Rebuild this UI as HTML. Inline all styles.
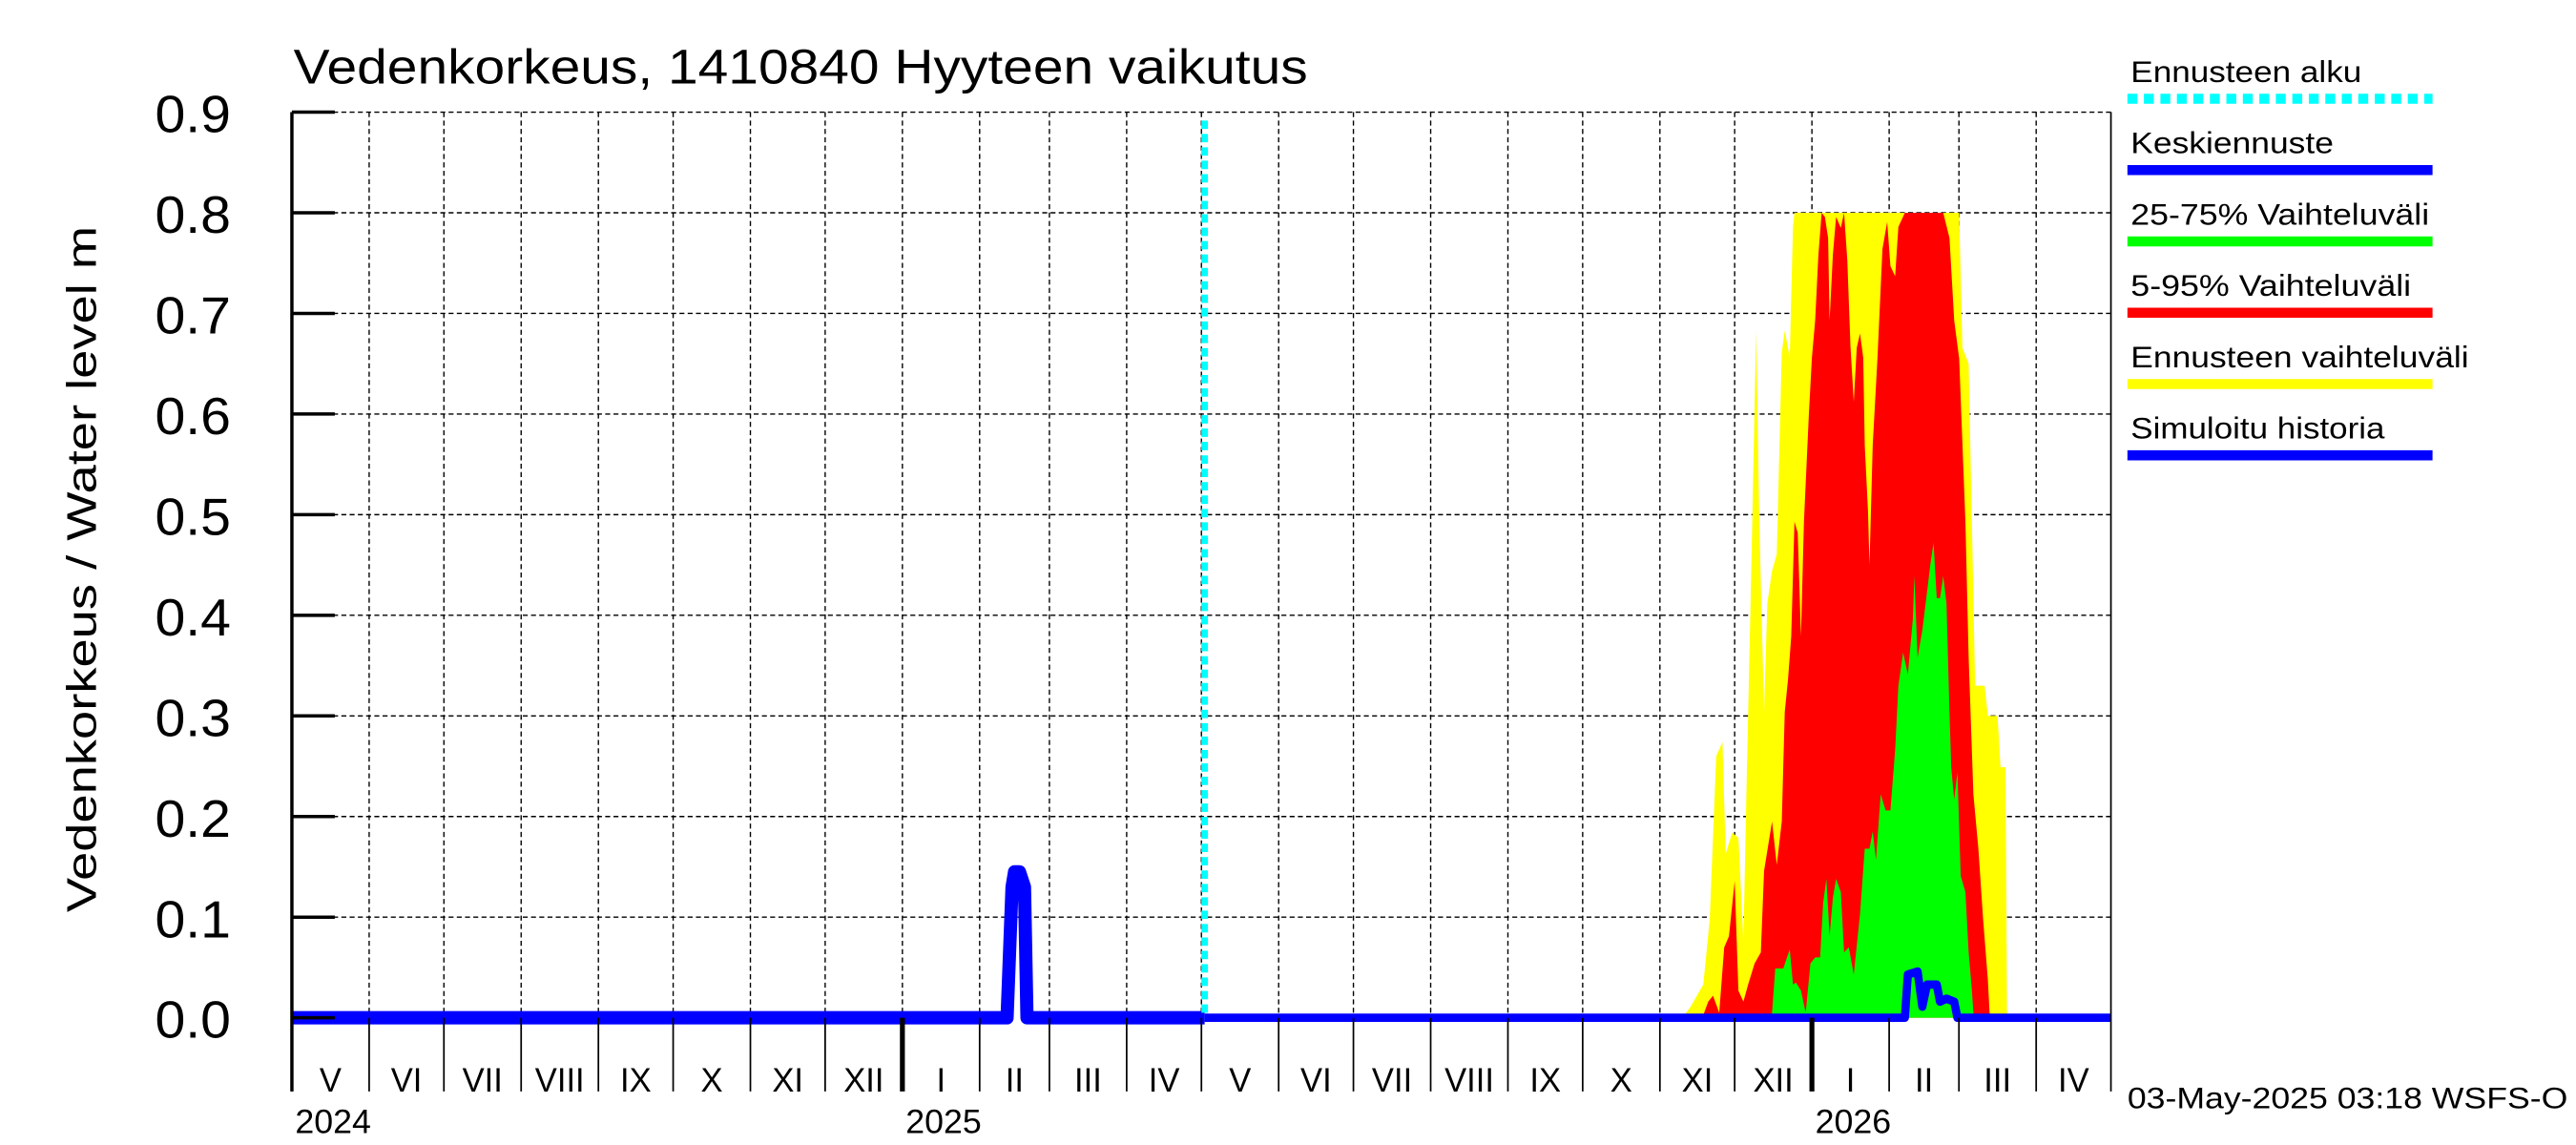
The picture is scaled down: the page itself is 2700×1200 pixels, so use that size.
<!DOCTYPE html>
<html><head><meta charset="utf-8"><style>
html,body{margin:0;padding:0;background:#fff;overflow:hidden}
svg{display:block;width:100vw;height:100vh}
text{font-family:"Liberation Sans",sans-serif;fill:#000}
</style></head><body>
<svg id="chart" viewBox="0 0 1562 684" preserveAspectRatio="none" xmlns="http://www.w3.org/2000/svg">
<g id="grid"></g>
<g id="bands"></g>
<g id="lines"></g>
<g id="axes"></g>
<text x="178" y="50" font-size="29" textLength="615" lengthAdjust="spacingAndGlyphs">Vedenkorkeus, 1410840 Hyyteen vaikutus</text>
<text transform="translate(58,340) rotate(-90)" text-anchor="middle" font-size="25" textLength="410" lengthAdjust="spacingAndGlyphs">Vedenkorkeus / Water level    m</text>
<g id="legend"></g>
<text x="1290" y="662" font-size="18" textLength="267" lengthAdjust="spacingAndGlyphs">03-May-2025 03:18 WSFS-O</text>
</svg>
<script>
// x: days since 1 May 2024; y: metres
const yTicks = [0,0.1,0.2,0.3,0.4,0.5,0.6,0.7,0.8,0.9];
const yTickLabels = ["0.0","0.1","0.2","0.3","0.4","0.5","0.6","0.7","0.8","0.9"];
const monthLabels = ["V","VI","VII","VIII","IX","X","XI","XII","I","II","III","IV","V","VI","VII","VIII","IX","X","XI","XII","I","II","III","IV"];
const monthDays = [31,30,31,31,30,31,30,31,31,28,31,30,31,30,31,31,30,31,30,31,31,28,31,30];
const yearLabels = ["2024","2025","2026"];
const yearStartDays = [0,245,610];
const forecastStartDay = 366.3;
const histDays = [0,287,289,290,292,294,295,366.3];
const histVals = [0,0,0.13,0.145,0.145,0.13,0,0];
const maxDays = [558,561.3,566.4,569,571.6,574.1,575.4,578,580.5,582.5,583.7,585.7,587.6,588.9,590.8,592.1,594,595.9,597.9,599.1,601.1,602.4,603,669.1,670.4,672.9,674.2,675.5,679.3,680.6,684.5,685.7,687.7,688.3,689.6];
const maxVals = [0,0.011,0.033,0.098,0.26,0.274,0.163,0.184,0.179,0.076,0.222,0.449,0.683,0.493,0.304,0.412,0.444,0.461,0.661,0.683,0.656,0.786,0.8,0.8,0.666,0.65,0.493,0.33,0.33,0.3,0.3,0.249,0.249,0.005,0];
const p95Days = [566,568.4,570.3,572.8,574.8,576.7,579,580.5,582.5,584.4,587,589.5,590.8,594,595.9,597.9,599.1,600.4,601.7,603,604.3,605.6,606.8,608.8,610,611.3,612.6,613.9,615.2,616.5,617.1,618.4,619.7,621.6,622.9,624.2,625.5,626.8,628,629.3,630.6,631.2,632.5,633.1,634.4,636.3,638.3,640.2,641.5,643.4,644.7,647.3,662.7,665.2,667.1,669.1,671.6,672.9,674.8,676.8,678.7,680.6,681.3,682];
const p95Vals = [0,0.016,0.022,0.005,0.07,0.081,0.136,0.027,0.016,0.033,0.054,0.065,0.146,0.195,0.152,0.195,0.304,0.336,0.379,0.493,0.482,0.379,0.493,0.601,0.656,0.693,0.758,0.8,0.796,0.775,0.693,0.758,0.796,0.785,0.8,0.753,0.666,0.612,0.666,0.68,0.656,0.569,0.504,0.45,0.569,0.655,0.764,0.791,0.747,0.737,0.786,0.8,0.8,0.775,0.693,0.655,0.493,0.358,0.222,0.168,0.098,0.038,0.005,0];
const p75Days = [594,595.3,598.5,601.1,602.4,603.6,605.6,607.5,609.4,611.3,613.3,614.5,615.8,617.1,618.4,619.7,621.6,622.9,624.8,626.8,629.3,631.2,633.1,634.4,635.7,637.6,639.6,641.5,643.4,644.7,646.6,648.5,650.5,651.1,652.4,654.3,656.2,657.5,658.8,660.1,661.4,662.7,664,665.2,665.9,667.1,668.4,669.7,671.6,672.9,674.2,674.8,675.5];
const p75Vals = [0.005,0.049,0.049,0.068,0.033,0.035,0.027,0.005,0.054,0.06,0.06,0.114,0.138,0.081,0.119,0.138,0.125,0.065,0.07,0.043,0.103,0.168,0.168,0.185,0.157,0.222,0.206,0.206,0.266,0.33,0.363,0.341,0.396,0.439,0.358,0.385,0.423,0.45,0.472,0.417,0.417,0.439,0.412,0.304,0.249,0.217,0.244,0.141,0.125,0.065,0.027,0.005,0];
const medDays = [366.3,647.3,648.5,652.4,654.3,656.2,660.1,661.4,664,667.1,668.4,730];
const medVals = [0,0,0.043,0.046,0.011,0.033,0.033,0.016,0.019,0.016,0,0];

const X0=177, X1=1280, Y0=608, Y9=67, NDAYS=730;
const xs = d => X0 + d*(X1-X0)/NDAYS;
const ys = v => Y0 - v*(Y0-Y9)/0.9;
const NS="http://www.w3.org/2000/svg";
function mk(tag, parent, attrs){const e=document.createElementNS(NS,tag);for(const k in attrs)e.setAttribute(k,attrs[k]);parent.appendChild(e);return e;}
const grid=document.getElementById('grid'), bands=document.getElementById('bands'), lines=document.getElementById('lines'), axes=document.getElementById('axes'), legend=document.getElementById('legend');

yTicks.forEach((v,i)=>{
  if(i>0){const g=mk('line',grid,{x1:X0,x2:X1,y1:ys(v),y2:ys(v),stroke:'#000','stroke-width':0.8,'stroke-dasharray':'3,2'});
  
  }
  const t=mk('line',axes,{x1:X0,x2:X0+26,y1:ys(v),y2:ys(v),stroke:'#000','stroke-width':2});
  
  
  const l=mk('text',axes,{x:140,y:ys(v)+12,'text-anchor':'end','font-size':31,textLength:46,lengthAdjust:'spacingAndGlyphs'});
  l.textContent=yTickLabels[i];
  
  
});
let d=0;
monthLabels.forEach((m,i)=>{
  const xa=xs(d), xb=xs(d+monthDays[i]);
  if(i>0){const g=mk('line',grid,{x1:xa,x2:xa,y1:Y9,y2:Y0,stroke:'#000','stroke-width':0.8,'stroke-dasharray':'3,2'});
  
  }
  const isYear = yearStartDays.indexOf(d)>=0 && d>0;
  const tk=mk('line',axes,{x1:xa,x2:xa,y1:Y0,y2:652,stroke:'#000','stroke-width':isYear?3:1});
  
  
  const l=mk('text',axes,{x:(xa+xb)/2,y:652,'text-anchor':'middle','font-size':20});
  l.textContent=m;
  
  
  d+=monthDays[i];
});
{const tk=mk('line',axes,{x1:X1,x2:X1,y1:Y9,y2:652,stroke:'#000','stroke-width':1});}
yearLabels.forEach((y,i)=>{
  const l=mk('text',axes,{x:xs(yearStartDays[i])+2,y:677,'font-size':20,textLength:46,lengthAdjust:'spacingAndGlyphs'});
  l.textContent=y;
  
  
});
{const a=mk('line',axes,{x1:X0,x2:X0,y1:Y9,y2:652,stroke:'#000','stroke-width':2});}

function area(days,vals,color,name){
  let p=days.map((dd,i)=>xs(dd).toFixed(2)+','+ys(vals[i]).toFixed(2));
  p.push(xs(days[days.length-1]).toFixed(2)+','+ys(0));
  p.unshift(xs(days[0]).toFixed(2)+','+ys(0));
  const e=mk('polygon',bands,{points:p.join(' '),fill:color});
  
  
}
area(maxDays,maxVals,'#ffff00','forecast-range-band');
area(p95Days,p95Vals,'#ff0000','band-5-95');
area(p75Days,p75Vals,'#00ff00','band-25-75');

function line(days,vals,color,w,name){
  const e=mk('polyline',lines,{points:days.map((dd,i)=>xs(dd).toFixed(2)+','+ys(vals[i]).toFixed(2)).join(' '),fill:'none',stroke:color,'stroke-width':w,'stroke-linejoin':'round'});
  
  
}
line(histDays,histVals,'#0000ff',8,'simulated-history-line');
line(medDays,medVals,'#0000ff',5,'median-forecast-line');
{const f=mk('line',lines,{x1:xs(forecastStartDay),x2:xs(forecastStartDay),y1:Y9+5,y2:Y0,stroke:'#00ffff','stroke-width':4,'stroke-dasharray':'5,3'});

}

const legNames=["Ennusteen alku","Keskiennuste","25-75% Vaihteluväli","5-95% Vaihteluväli","Ennusteen vaihteluväli","Simuloitu historia"];
const legColors=["#00ffff","#0000ff","#00ff00","#ff0000","#ffff00","#0000ff"];
const legTextLen=[140,123,181,170,205,154];
legNames.forEach((n,i)=>{
  const y=59+i*42.6;
  const t=mk('text',legend,{x:1292,y:y-10,'font-size':18,textLength:legTextLen[i],lengthAdjust:'spacingAndGlyphs'});
  t.textContent=n;
  
  
  const ln=mk('line',legend,{x1:1290,x2:1475,y1:y,y2:y,stroke:legColors[i],'stroke-width':6});
  if(i===0) ln.setAttribute('stroke-dasharray','6,4');
  
  
});
</script>
</body></html>
